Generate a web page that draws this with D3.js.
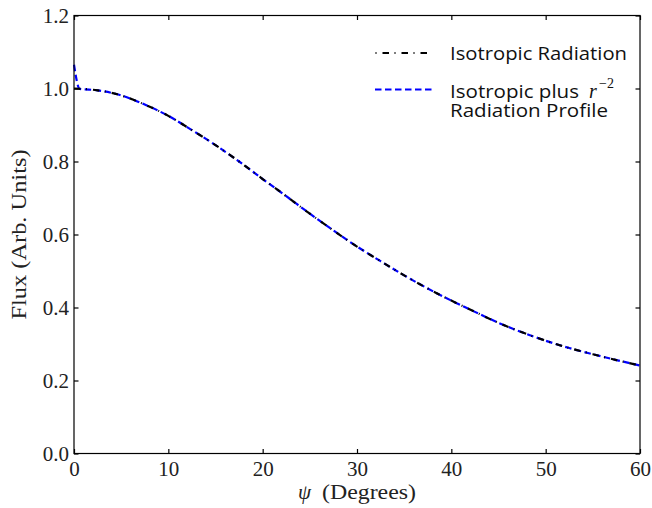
<!DOCTYPE html>
<html>
<head>
<meta charset="utf-8">
<script src="https://cdn.jsdelivr.net/npm/d3@7"></script>
<style>
  body { margin: 0; background: #fff; }
  svg { display: block; }
  .tick text { font-family: "Liberation Serif", serif; font-size: 21px; fill: #222; }
  .legend text { font-family: "Open Sans", Lato, sans-serif; font-size: 18.5px; fill: #111; }
</style>
</head>
<body>
<div id="chart-container"></div>
<script>
// flux vs angle, two curves nearly on top of each other
const svgWidth = 652;
const svgHeight = 508;
const margin = { top: 15.5, right: 12, bottom: 54.5, left: 74 };
const width = svgWidth - margin.left - margin.right;
const height = svgHeight - margin.top - margin.bottom;

// values
const psiIso = [0, 2.5, 5, 7.5, 10, 12.5, 15, 17.5, 20, 22.5, 25, 27.5, 30, 32.5, 35, 37.5, 40, 42.5, 45, 47.5, 50, 52.5, 55, 57.5, 60];
const fluxIso = [1.000, 0.995, 0.981, 0.956, 0.925, 0.886, 0.845, 0.800, 0.752, 0.705, 0.657, 0.611, 0.567, 0.527, 0.488, 0.452, 0.419, 0.388, 0.358, 0.332, 0.309, 0.289, 0.272, 0.256, 0.241];
const psiProfile = [0, 0.6, 2.5, 5, 7.5, 10, 12.5, 15, 17.5, 20, 22.5, 25, 27.5, 30, 32.5, 35, 37.5, 40, 42.5, 45, 47.5, 50, 52.5, 55, 57.5, 60];
const fluxProfile = [1.065, 0.999, 0.995, 0.981, 0.956, 0.925, 0.886, 0.845, 0.800, 0.752, 0.705, 0.657, 0.611, 0.567, 0.527, 0.488, 0.452, 0.419, 0.388, 0.358, 0.332, 0.309, 0.289, 0.272, 0.256, 0.241];
const xTicks = [0, 10, 20, 30, 40, 50, 60];
const yTicks = [0.0, 0.2, 0.4, 0.6, 0.8, 1.0, 1.2];

const svg = d3.select("#chart-container")
    .append("svg")
    .attr("width", svgWidth)
    .attr("height", svgHeight)
    .append("g")
    .attr("transform", `translate(${margin.left},${margin.top})`);

const x = d3.scaleLinear().domain([0, 60]).range([0, width]);
const y = d3.scaleLinear().domain([0, 1.2]).range([height, 0]);

// axes, ticks pointing inward on all four sides
const tickLen = 4.5;
svg.append("g")
    .attr("transform", `translate(0,${height})`)
    .call(d3.axisBottom(x).tickValues(xTicks).tickSizeInner(-tickLen).tickSizeOuter(0).tickPadding(8).tickFormat(d3.format("d")));
svg.append("g")
    .call(d3.axisLeft(y).tickValues(yTicks).tickSizeInner(-tickLen).tickSizeOuter(0).tickPadding(5).tickFormat(d3.format(".1f")));
svg.append("g")
    .call(d3.axisTop(x).tickValues(xTicks).tickSizeInner(-tickLen).tickSizeOuter(0).tickFormat(""));
svg.append("g")
    .attr("transform", `translate(${width},0)`)
    .call(d3.axisRight(y).tickValues(yTicks).tickSizeInner(-tickLen).tickSizeOuter(0).tickFormat(""));

svg.selectAll(".domain").remove();
svg.selectAll(".tick line").attr("stroke", "#000").attr("stroke-width", 1.2);
svg.selectAll(".tick text").attr("fill", "#222");

const line = d3.line()
    .x(d => x(d[0]))
    .y(d => y(d[1]))
    .curve(d3.curveMonotoneX);

// blue underneath, black dash-dot on top
svg.append("path")
    .datum(psiProfile.map((p, i) => [p, fluxProfile[i]]))
    .attr("d", line)
    .attr("fill", "none")
    .attr("stroke", "#0000ff")
    .attr("stroke-width", 2.2)
    .attr("stroke-dasharray", "6.5,3.5");

svg.append("path")
    .datum(psiIso.map((p, i) => [p, fluxIso[i]]))
    .attr("d", line)
    .attr("fill", "none")
    .attr("stroke", "#000")
    .attr("stroke-width", 2.2)
    .attr("stroke-dasharray", "6.5,5.5,1,6");

// frame
svg.append("rect")
    .attr("width", width)
    .attr("height", height)
    .attr("fill", "none")
    .attr("stroke", "#000")
    .attr("stroke-width", 1.2);

// legend
const lx = 375 - margin.left;
const tx = 450 - margin.left;
const legend = svg.append("g").attr("class", "legend");
legend.append("line")
    .attr("x1", lx).attr("x2", lx + 57)
    .attr("y1", 53 - margin.top).attr("y2", 53 - margin.top)
    .attr("stroke", "#000").attr("stroke-width", 2.2)
    .attr("stroke-dasharray", "6.5,5.5,1,6")
    .attr("stroke-dashoffset", 11.5);
legend.append("text")
    .attr("x", tx).attr("y", 59.5 - margin.top)
    .attr("textLength", 177).attr("lengthAdjust", "spacingAndGlyphs")
    .text("Isotropic Radiation");
legend.append("line")
    .attr("x1", lx).attr("x2", lx + 57)
    .attr("y1", 89.5 - margin.top).attr("y2", 89.5 - margin.top)
    .attr("stroke", "#0000ff").attr("stroke-width", 2.2)
    .attr("stroke-dasharray", "6.5,3.5");
legend.append("text")
    .attr("x", tx).attr("y", 97.5 - margin.top)
    .attr("textLength", 129).attr("lengthAdjust", "spacingAndGlyphs")
    .text("Isotropic plus");
legend.append("text")
    .attr("x", 589 - margin.left).attr("y", 97.5 - margin.top)
    .style("font-family", "'Liberation Serif', serif")
    .style("font-style", "italic")
    .style("font-size", "20px")
    .text("r");
legend.append("text")
    .attr("x", 599 - margin.left).attr("y", 88 - margin.top)
    .style("font-family", "'Liberation Serif', serif")
    .style("font-size", "14px")
    .text("\u22122");
legend.append("text")
    .attr("x", tx).attr("y", 117 - margin.top)
    .attr("textLength", 158).attr("lengthAdjust", "spacingAndGlyphs")
    .text("Radiation Profile");

// axis titles
svg.append("text")
    .text("\u03c8")
    .attr("x", 298 - margin.left)
    .attr("y", height + 45)
    .style("font-family", "'Liberation Serif', serif")
    .style("font-style", "italic")
    .style("font-size", "21px")
    .attr("fill", "#222");
svg.append("text")
    .text("(Degrees)")
    .attr("x", 322 - margin.left)
    .attr("y", height + 45)
    .attr("textLength", 94).attr("lengthAdjust", "spacingAndGlyphs")
    .style("font-family", "'Liberation Serif', serif")
    .style("font-size", "21px")
    .attr("fill", "#222");

svg.append("text")
    .text("Flux (Arb. Units)")
    .attr("transform", `translate(${26 - margin.left},${height / 2}) rotate(-90)`)
    .attr("text-anchor", "middle")
    .attr("textLength", 170).attr("lengthAdjust", "spacingAndGlyphs")
    .style("font-family", "'Liberation Serif', serif")
    .style("font-size", "22px")
    .attr("fill", "#222");
</script>
</body>
</html>
